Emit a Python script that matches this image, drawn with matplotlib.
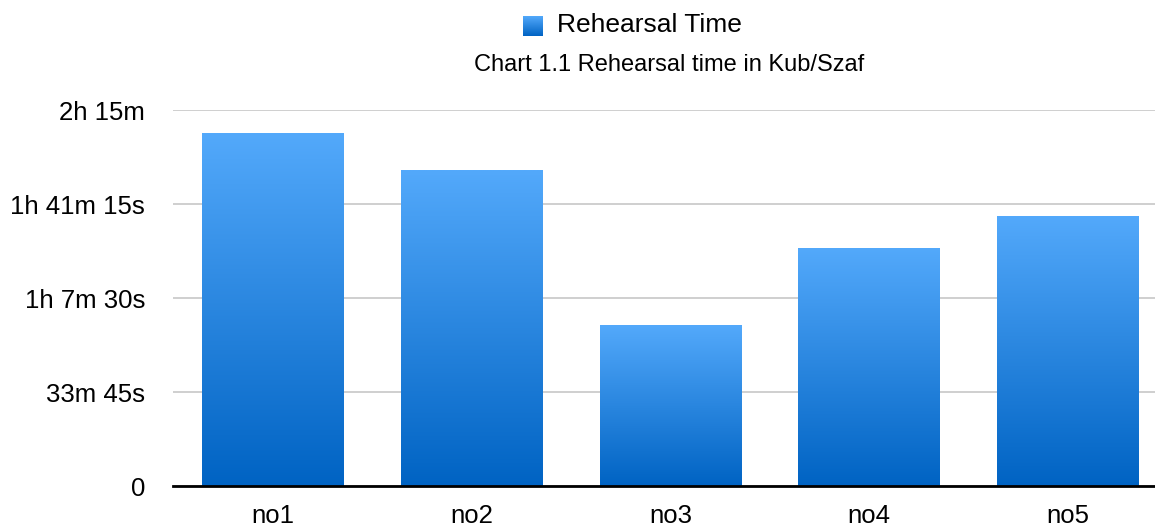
import numpy as np
import matplotlib
matplotlib.use("Agg")
import matplotlib.pyplot as plt
from matplotlib.colors import LinearSegmentedColormap

plt.rcParams['font.family'] = ['Liberation Sans', 'DejaVu Sans']

# Данные: время репетиций в секундах
categories = ["no1", "no2", "no3", "no4", "no5"]
rehearsal_seconds = [7600, 6805, 3465, 5125, 5815]
tick_values = [0, 2025, 4050, 6075, 8100]
tick_labels = ["0", "33m 45s", "1h 7m 30s", "1h 41m 15s", "2h 15m"]

grad = LinearSegmentedColormap.from_list("bar_grad", ["#0063c3", "#53a9fb"])
grad_img = np.linspace(0, 1, 256).reshape(-1, 1)

fig = plt.figure(figsize=(11.55, 5.26), dpi=100)
ax = fig.add_axes([173 / 1155, 1 - 486 / 526, 1 - 173 / 1155, (486 - 110) / 526])

x = np.arange(len(categories))
bars = ax.bar(x, rehearsal_seconds, width=0.714, color="none", zorder=3)
for b in bars:
    # градиент внутри каждого столбца
    im = ax.imshow(grad_img, cmap=grad, origin="lower", aspect="auto",
                   extent=[b.get_x(), b.get_x() + b.get_width(), 0, b.get_height()],
                   zorder=3)
    im.set_clip_path(b)

slot = 198.75  # ширина одной категории в пикселях
ax.set_xlim(-100 / slot, (1155 - 273) / slot)
ax.set_ylim(0, 8100)
ax.set_yticks(tick_values)
ax.set_yticklabels(tick_labels, fontsize=18.5)
ax.set_xticks(x)
ax.set_xticklabels(categories, fontsize=18.5)
ax.tick_params(axis="y", length=0, pad=20)
ax.tick_params(axis="x", length=0, pad=13)
ax.grid(axis="y", color="#cccccc", linewidth=1.3, zorder=0)
for s in ["top", "right", "left"]:
    ax.spines[s].set_visible(False)
ax.spines["bottom"].set_linewidth(2)
ax.spines["bottom"].set_zorder(4)

# Легенда и заголовок
leg_ax = fig.add_axes([523 / 1155, 1 - 36 / 526, 20 / 1155, 20 / 526])
leg_ax.imshow(grad_img, cmap=grad, origin="lower", aspect="auto")
leg_ax.axis("off")
fig.text(557 / 1155, 1 - 25 / 526, "Rehearsal Time", fontsize=19, va="center", ha="left")
fig.text(669 / 1155, 1 - 65 / 526, "Chart 1.1 Rehearsal time in Kub/Szaf", fontsize=17,
         va="center", ha="center")

fig.savefig("out.png", dpi=100)
